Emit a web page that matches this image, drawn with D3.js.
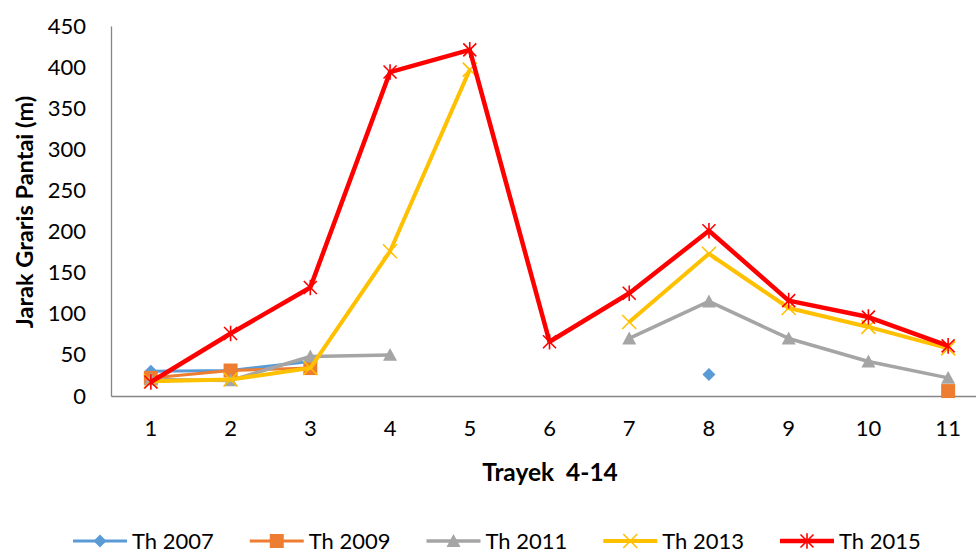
<!DOCTYPE html>
<html>
<head>
<meta charset="utf-8">
<script src="https://cdn.jsdelivr.net/npm/d3@7"></script>
<style>
  body { margin: 0; background: #fff; }
  text { font-family: Lato, "Open Sans", sans-serif; fill: #000; }
  .axis-title { font-weight: bold; }
</style>
</head>
<body>
<div id="wrapper"></div>
<script>
const categories = [1, 2, 3, 4, 5, 6, 7, 8, 9, 10, 11]
const yTicks = [0, 50, 100, 150, 200, 250, 300, 350, 400, 450]

const th2007 = [30, 31, 42, null, null, null, null, 26, null, null, null]
const th2009 = [22, 31, 34, null, null, null, null, null, null, null, 6]
const th2011 = [20, 19, 48, 50, null, null, 70, 115, 70, 42, 22]
const th2013 = [18, 20, 34, 176, 397, null, 90, 173, 107, 84, 58]
const th2015 = [17, 76, 132, 394, 421, 66, 125, 201, 116, 96, 61]

const seriesNames = ["Th 2007", "Th 2009", "Th 2011", "Th 2013", "Th 2015"]

const series = [
  { name: seriesNames[0], values: th2007, color: "#5B9BD5", width: 3, marker: "diamond" },
  { name: seriesNames[1], values: th2009, color: "#ED7D31", width: 3, marker: "square" },
  { name: seriesNames[2], values: th2011, color: "#A5A5A5", width: 3.5, marker: "triangle" },
  { name: seriesNames[3], values: th2013, color: "#FFC000", width: 4, marker: "x" },
  { name: seriesNames[4], values: th2015, color: "#FF0000", width: 4.5, marker: "star" },
]

const dimensions = {
  width: 976,
  height: 553,
  margin: { top: 26, right: -12, bottom: 157, left: 111 },
}
dimensions.boundedWidth = dimensions.width - dimensions.margin.left - dimensions.margin.right
dimensions.boundedHeight = dimensions.height - dimensions.margin.top - dimensions.margin.bottom

const svg = d3.select("#wrapper").append("svg")
  .attr("width", dimensions.width)
  .attr("height", dimensions.height)

const bounds = svg.append("g")
  .attr("transform", `translate(${dimensions.margin.left},${dimensions.margin.top})`)

const xScale = d3.scaleBand()
  .domain(categories)
  .range([0, dimensions.boundedWidth])

const xCenter = d => xScale(d) + xScale.bandwidth() / 2

const yScale = d3.scaleLinear()
  .domain([0, 450])
  .range([dimensions.boundedHeight, 0])

// axes
const yAxis = bounds.append("g")
  .call(d3.axisLeft(yScale).tickValues(yTicks).tickSize(0).tickPadding(25))
yAxis.select(".domain").attr("stroke", "#868686").attr("stroke-width", 1.3)
yAxis.selectAll("text")
  .style("font-size", "22px")
  .style("font-family", "Lato, sans-serif")
  .attr("fill", "#000")

const xAxis = bounds.append("g")
  .attr("transform", `translate(0,${dimensions.boundedHeight})`)
  .call(d3.axisBottom(xScale).tickSize(0).tickPadding(24))
xAxis.select(".domain").attr("stroke", "#868686").attr("stroke-width", 1.3)
xAxis.selectAll("text")
  .style("font-size", "22px")
  .style("font-family", "Lato, sans-serif")
  .attr("fill", "#000")

// axis titles
svg.append("text")
  .attr("class", "axis-title")
  .attr("transform", `translate(33, 212) rotate(-90)`)
  .attr("text-anchor", "middle")
  .style("font-size", "23.5px")
  .text("Jarak Graris Pantai (m)")

svg.append("text")
  .attr("class", "axis-title")
  .attr("x", 550)
  .attr("y", 481)
  .attr("text-anchor", "middle")
  .style("font-size", "24.5px")
  .text("Trayek\u00a0 4-14")

// markers
function drawMarker(g, type, color, size) {
  const h = size / 2
  if (type === "diamond") {
    g.append("path").attr("d", `M0,${-h}L${h},0L0,${h}L${-h},0Z`).attr("fill", color)
  } else if (type === "square") {
    g.append("rect").attr("x", -h).attr("y", -h).attr("width", size).attr("height", size).attr("fill", color)
  } else if (type === "triangle") {
    g.append("path").attr("d", `M0,${-h}L${h},${h * 0.85}L${-h},${h * 0.85}Z`).attr("fill", color)
  } else if (type === "x") {
    g.append("path").attr("d", `M${-h},${-h}L${h},${h}M${-h},${h}L${h},${-h}`)
      .attr("stroke", color).attr("stroke-width", 1.6).attr("fill", "none")
  } else if (type === "star") {
    g.append("path").attr("d", `M${-h},${-h}L${h},${h}M${-h},${h}L${h},${-h}M0,${-h * 1.2}L0,${h * 1.2}`)
      .attr("stroke", color).attr("stroke-width", 1.6).attr("fill", "none")
  }
}

const markerSize = { diamond: 13, square: 14, triangle: 14, x: 14, star: 13 }

const lineGenerator = d3.line()
  .defined(d => d.value !== null)
  .x(d => xCenter(d.cat))
  .y(d => yScale(d.value))

series.forEach(s => {
  const points = categories.map((cat, i) => ({ cat, value: s.values[i] }))
  const g = bounds.append("g")
  g.append("path")
    .datum(points)
    .attr("d", lineGenerator)
    .attr("fill", "none")
    .attr("stroke", s.color)
    .attr("stroke-width", s.width)
    .attr("stroke-linejoin", "round")

  g.selectAll(".marker")
    .data(points.filter(d => d.value !== null))
    .enter().append("g")
    .attr("class", "marker")
    .attr("transform", d => `translate(${xCenter(d.cat)},${yScale(d.value)})`)
    .each(function () { drawMarker(d3.select(this), s.marker, s.color, markerSize[s.marker]) })
})

// legend
const legendStep = 176.75
const legend = svg.append("g")
  .attr("transform", "translate(73, 541)")

const legendItems = legend.selectAll(".legend-item")
  .data(series)
  .enter().append("g")
  .attr("class", "legend-item")
  .attr("transform", (d, i) => `translate(${i * legendStep},0)`)

legendItems.append("line")
  .attr("x1", 0).attr("x2", 54)
  .attr("stroke", d => d.color)
  .attr("stroke-width", d => d.width)

legendItems.append("g")
  .attr("transform", "translate(27,0)")
  .each(function (d) { drawMarker(d3.select(this), d.marker, d.color, markerSize[d.marker]) })

legendItems.append("text")
  .attr("x", 59)
  .attr("dy", "0.36em")
  .style("font-size", "22px")
  .text(d => d.name)
</script>
</body>
</html>
